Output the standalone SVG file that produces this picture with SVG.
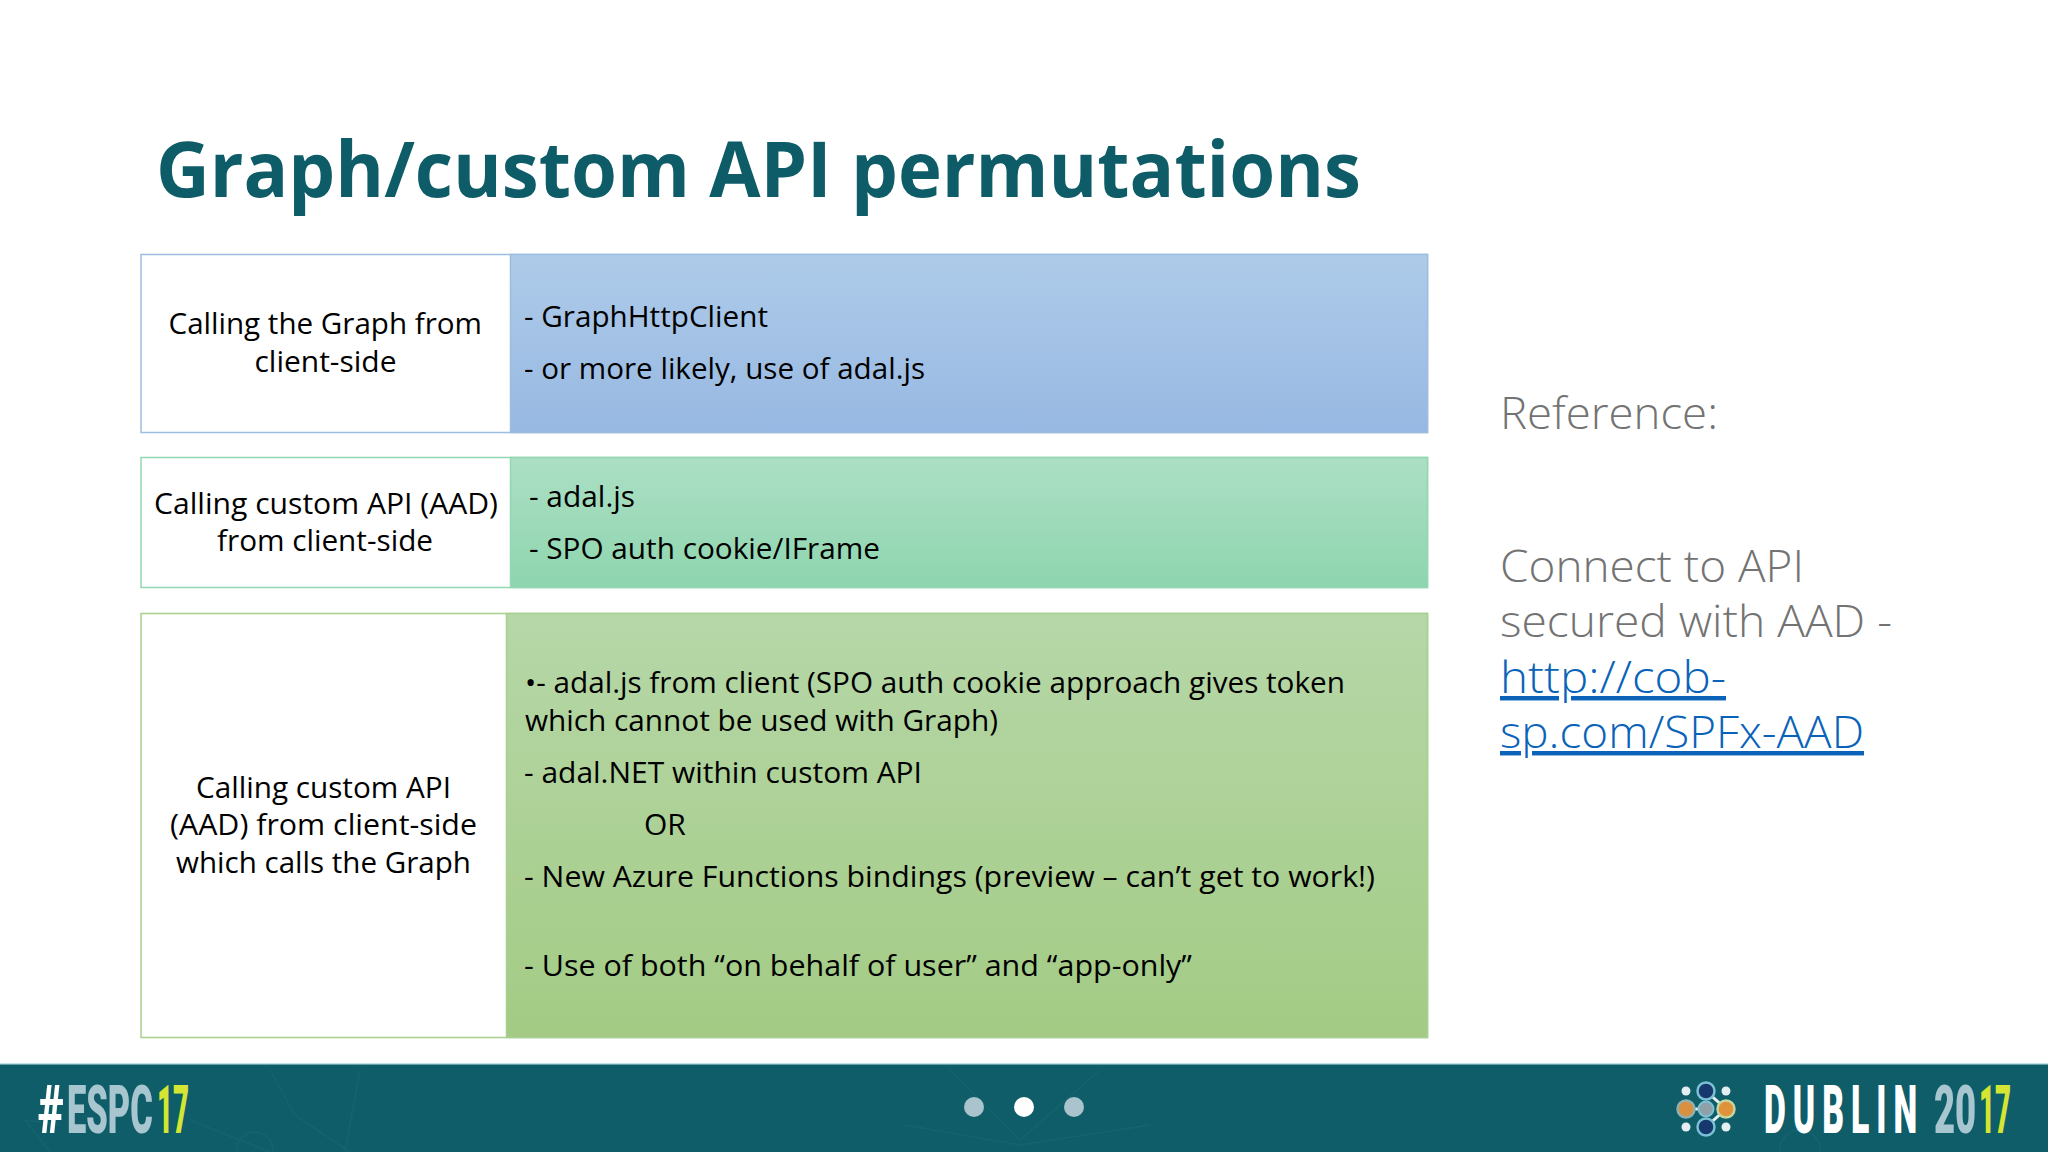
<svg xmlns="http://www.w3.org/2000/svg" width="2048" height="1152" viewBox="0 0 2048 1152">
<style>
text{font-family:"Open Sans","Noto Sans",sans-serif;fill:#000}
.b{font-size:30px}
.r{font-size:44.5px;fill:#737373;font-weight:300}
.l{font-size:44.5px;fill:#0a63b8;font-weight:300}
.f{font-family:"Roboto","Liberation Sans",sans-serif;font-weight:900;font-size:67.5px}
.w{fill:#fff}.s{fill:#a8c6d0}.y{fill:#d4e534}
.dot{fill:#e4eef2}
.sm{fill:#a9c4cc}
</style>
<defs>
<linearGradient id="gb" x1="0" y1="0" x2="0" y2="1"><stop offset="0" stop-color="#aecbe9"/><stop offset="1" stop-color="#97b8e2"/></linearGradient>
<linearGradient id="gt" x1="0" y1="0" x2="0" y2="1"><stop offset="0" stop-color="#acdfc5"/><stop offset="1" stop-color="#8ed5ae"/></linearGradient>
<linearGradient id="gg" x1="0" y1="0" x2="0" y2="1"><stop offset="0" stop-color="#b6d7a8"/><stop offset="1" stop-color="#a3cb84"/></linearGradient>
</defs>
<rect width="2048" height="1152" fill="#fff"/>
<text x="156" y="197" font-size="77" font-weight="700" style="fill:#0e5c68" textLength="1205" lengthAdjust="spacingAndGlyphs">Graph/custom API permutations</text>
<g id="row1">
<rect x="141" y="254.500" width="1286.500" height="178" fill="#fff" stroke="#9dbde0" stroke-width="1.500"/>
<rect x="510.500" y="254.500" width="917" height="178" fill="url(#gb)" stroke="#9dbde0" stroke-width="1.500"/>
<text class="b" x="168.500" y="334" textLength="313.500" lengthAdjust="spacingAndGlyphs">Calling the Graph from</text>
<text class="b" x="254.500" y="372" textLength="142" lengthAdjust="spacingAndGlyphs">client-side</text>
<text class="b" x="524" y="327" textLength="244" lengthAdjust="spacingAndGlyphs">- GraphHttpClient</text>
<text class="b" x="524" y="379" textLength="401" lengthAdjust="spacingAndGlyphs">- or more likely, use of adal.js</text>
</g>
<g id="row2">
<rect x="141" y="457.500" width="1286.500" height="130" fill="#fff" stroke="#93d6b2" stroke-width="1.500"/>
<rect x="510.500" y="457.500" width="917" height="130" fill="url(#gt)" stroke="#93d6b2" stroke-width="1.500"/>
<text class="b" x="154" y="514" textLength="344" lengthAdjust="spacingAndGlyphs">Calling custom API (AAD)</text>
<text class="b" x="217" y="551" textLength="216" lengthAdjust="spacingAndGlyphs">from client-side</text>
<text class="b" x="529" y="507" textLength="106" lengthAdjust="spacingAndGlyphs">- adal.js</text>
<text class="b" x="529" y="559" textLength="351" lengthAdjust="spacingAndGlyphs">- SPO auth cookie/IFrame</text>
</g>
<g id="row3">
<rect x="141" y="613.500" width="1286.500" height="424" fill="#fff" stroke="#a8cf8f" stroke-width="1.500"/>
<rect x="506.500" y="613.500" width="921" height="424" fill="url(#gg)" stroke="#a8cf8f" stroke-width="1.500"/>
<text class="b" x="196" y="798" textLength="255" lengthAdjust="spacingAndGlyphs">Calling custom API</text>
<text class="b" x="170" y="835" textLength="307" lengthAdjust="spacingAndGlyphs">(AAD) from client-side</text>
<text class="b" x="176" y="873" textLength="295" lengthAdjust="spacingAndGlyphs">which calls the Graph</text>
<text class="b" x="525" y="693" textLength="820" lengthAdjust="spacingAndGlyphs">•- adal.js from client (SPO auth cookie approach gives token</text>
<text class="b" x="525" y="731" textLength="473" lengthAdjust="spacingAndGlyphs">which cannot be used with Graph)</text>
<text class="b" x="524" y="783" textLength="398" lengthAdjust="spacingAndGlyphs">- adal.NET within custom API</text>
<text class="b" x="644" y="835">OR</text>
<text class="b" x="524" y="887" textLength="851" lengthAdjust="spacingAndGlyphs">- New Azure Functions bindings (preview – can’t get to work!)</text>
<text class="b" x="524" y="976" textLength="668" lengthAdjust="spacingAndGlyphs">- Use of both “on behalf of user” and “app-only”</text>
</g>
<g id="reference">
<text class="r" x="1500" y="429" textLength="218" lengthAdjust="spacingAndGlyphs">Reference:</text>
<text class="r" x="1500" y="582" textLength="304" lengthAdjust="spacingAndGlyphs">Connect to API</text>
<text class="r" x="1500" y="637" textLength="392" lengthAdjust="spacingAndGlyphs">secured with AAD -</text>
<text class="l" x="1500" y="693" text-decoration="underline" textLength="226" lengthAdjust="spacingAndGlyphs">http://cob-</text>
<text class="l" x="1500" y="748" text-decoration="underline" textLength="364" lengthAdjust="spacingAndGlyphs">sp.com/SPFx-AAD</text>
</g>
<g id="footer">
<rect y="1064" width="2048" height="88" fill="#0e5d68"/>
<rect y="1063" width="2048" height="1.500" fill="#bfe6ea"/>
<g stroke="#1a6a75" stroke-width="1.500" fill="none" opacity=".55">
<path d="M270 1070L295 1115L350 1152M360 1070L345 1152M190 1120L270 1152M50 1152L25 1120L60 1125"/>
<path d="M950 1070L1020 1140L1100 1070M905 1125L1020 1145L1150 1125"/>
<circle cx="255" cy="1150" r="18"/><circle cx="1800" cy="1150" r="20"/>
</g>
<circle cx="974" cy="1107" r="10" class="sm"/>
<circle cx="1024" cy="1107" r="10" fill="#fff"/>
<circle cx="1074" cy="1107" r="10" class="sm"/>
<text class="f w" transform="translate(38,1133) scale(.66,1)">#</text>
<text class="f s" transform="translate(67,1133) scale(.51,1)">ESPC</text>
<text class="f y" transform="translate(157,1133) scale(.41,1)">17</text>
<g id="logo">
<path d="M1686 1109H1706M1706 1091L1726 1109L1706 1127" fill="none" stroke="#e6f0f4" stroke-width="3"/>
<circle cx="1706" cy="1091" r="8.500" fill="#16386c" stroke="#7cc0d6" stroke-width="2.500"/>
<circle cx="1706" cy="1127" r="8.500" fill="#16386c" stroke="#7cc0d6" stroke-width="2.500"/>
<circle cx="1686" cy="1109" r="8.500" fill="#d9913f" stroke="#8fb0b0" stroke-width="2.500"/>
<circle cx="1726" cy="1109" r="8.500" fill="#e0923a" stroke="#c2d6a0" stroke-width="2.500"/>
<circle cx="1706" cy="1109" r="7.500" fill="#8fa0a8" stroke="#7cc0d6" stroke-width="2"/>
<circle cx="1686" cy="1091" r="4.500" class="dot"/>
<circle cx="1726" cy="1091" r="4.500" class="dot"/>
<circle cx="1686" cy="1127" r="4.500" class="dot"/>
<circle cx="1726" cy="1127" r="4.500" class="dot"/>
</g>
<text class="f w" transform="translate(1764,1133) scale(.5,1)" letter-spacing="14">DUBLIN</text>
<text class="f s" transform="translate(1934,1133) scale(.54,1)">20</text>
<text class="f y" transform="translate(1979,1133) scale(.41,1)">17</text>
</g>
</svg>
